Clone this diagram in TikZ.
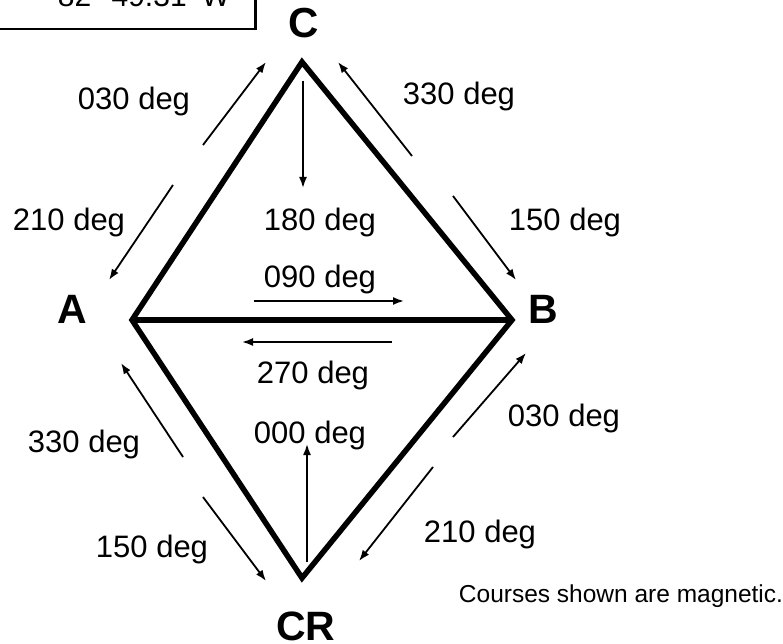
\documentclass[tikz,border=0pt]{standalone}
\usepackage{fontspec}
\setmainfont{Liberation Sans}
\usetikzlibrary{arrows.meta}
\begin{document}
\begin{tikzpicture}[x=1pt,y=-1pt,
  leg/.style={line width=5.5pt,line join=miter},
  course/.style={line width=1.8pt,-{Latex[length=11pt,width=8pt]}},
  lbl/.style={anchor=base,inner sep=0pt,font=\fontsize{31}{31}\selectfont},
  vtx/.style={anchor=base,inner sep=0pt,font=\fontsize{41}{41}\selectfont\bfseries},
  note/.style={anchor=base,inner sep=0pt,font=\fontsize{24.5}{24.5}\selectfont}]
\useasboundingbox (0,0) rectangle (783,644);
% vertices
\coordinate (A) at (132,320);
\coordinate (B) at (512,320);
\coordinate (C) at (302,62);
\coordinate (CR) at (302,578);
% position box (cut at top)
\node[draw,line width=2.5pt,minimum width=280pt,minimum height=80pt,anchor=south east,inner sep=0pt] (pos) at (256.5,30.5) {};
\node[lbl,font=\fontsize{30}{30}\selectfont] (postext) at (144,7) {82° 49.31' W};
% legs
\draw[leg] (A) -- (C) -- (B) -- (CR) -- cycle;
\draw[leg] (A) -- (B);
% vertex labels
\node[vtx] (lA) at (72,323) {A};
\node[vtx] (lB) at (543,323) {B};
\node[vtx,font=\fontsize{42}{42}\selectfont\bfseries] (lC) at (304,38) {C};
\node[vtx] (lCR) at (306,640) {CR};
% course arrows
\coordinate (a1s) at (203,145); \coordinate (a1e) at (266,62);
\coordinate (a2s) at (173,185); \coordinate (a2e) at (109,280);
\coordinate (a3s) at (412,156); \coordinate (a3e) at (338,62);
\coordinate (a4s) at (453,196); \coordinate (a4e) at (516,280);
\coordinate (a5s) at (183,457); \coordinate (a5e) at (121,363);
\coordinate (a6s) at (203,497); \coordinate (a6e) at (266,581);
\coordinate (a7s) at (453,437); \coordinate (a7e) at (526,353);
\coordinate (a8s) at (433,467); \coordinate (a8e) at (359,561);
\coordinate (a9s) at (254,301); \coordinate (a9e) at (404,301);
\coordinate (a10s) at (392,342); \coordinate (a10e) at (242,342);
\coordinate (a11s) at (303,81); \coordinate (a11e) at (303,188);
\coordinate (a12s) at (307,562); \coordinate (a12e) at (307,444);
\foreach \i in {1,...,12}{\draw[course] (a\i s) -- (a\i e);}
% course labels
\node[lbl] (l030a) at (134,110) {030 deg};
\node[lbl] (l330a) at (459,105) {330 deg};
\node[lbl] (l210a) at (69,230) {210 deg};
\node[lbl] (l180) at (320,230) {180 deg};
\node[lbl] (l150a) at (565,230) {150 deg};
\node[lbl] (l090) at (320,287) {090 deg};
\node[lbl] (l270) at (313,383) {270 deg};
\node[lbl] (l000) at (310,443) {000 deg};
\node[lbl] (l330b) at (84,452) {330 deg};
\node[lbl] (l150b) at (152,557) {150 deg};
\node[lbl] (l030b) at (564,426) {030 deg};
\node[lbl] (l210b) at (480,542) {210 deg};
\node[note] (notetext) at (621,602) {Courses shown are magnetic.};
\end{tikzpicture}
\end{document}
